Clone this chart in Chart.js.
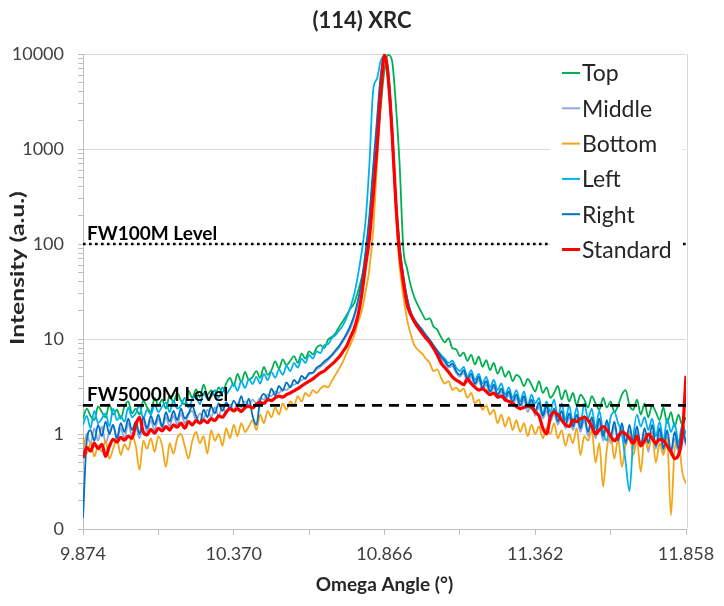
<!DOCTYPE html>
<html lang="en">
<head>
  <meta charset="utf-8">
  <title>(114) XRC</title>
  <script src="https://cdn.jsdelivr.net/npm/chart.js@4"></script>
  <style>
html, body {
  margin: 0;
  padding: 0;
  background: #fff;
}
#content {
  width: 724px;
  height: 606px;
}
  </style>
</head>
<body>
  <div id="content">
    <canvas id="xrc-chart" width="724" height="606"></canvas>
  </div>
  <script type="text/javascript">
// Omega grid: 161 samples, 0.0124 deg apart, 9.874 .. 11.858
const omegaStart = 9.874;
const omegaStep = 0.0124;
const omega = [];
for (let i = 0; i <= 160; i++) omega.push(+(omegaStart + i * omegaStep).toFixed(4));

const xTickValues = [9.874, 10.122, 10.370, 10.618, 10.866, 11.114, 11.362, 11.610, 11.858];
const yDecades = [0.1, 1, 10, 100, 1000, 10000];

const seriesNames = ['Top', 'Middle', 'Bottom', 'Left', 'Right', 'Standard'];
const levelNames = ['FW100M Level', 'FW5000M Level'];
const levelValues = [100, 2];

// intensities (a.u.), one per omega sample
const topSeries = [
  1.45, 1.85, 1.55, 1.40, 1.95, 1.70, 1.50, 2.05, 1.60, 1.80,
  1.45, 1.95, 2.20, 1.65, 1.85, 1.60, 2.25, 1.90, 1.70, 2.40,
  2.00, 2.30, 1.85, 2.55, 2.15, 2.70, 2.25, 2.05, 2.85, 2.40,
  2.95, 2.45, 3.30, 2.60, 2.90, 2.50, 3.10, 2.75, 3.40, 3.90,
  3.20, 4.30, 3.50, 4.50, 3.70, 4.00, 4.60, 3.90, 5.10, 4.20,
  4.70, 5.80, 4.90, 6.10, 5.30, 5.90, 6.60, 5.60, 7.00, 6.20,
  7.40, 6.90, 8.10, 8.60, 8.00, 9.80, 10.5, 11.5, 13.5, 15.5,
  18, 21, 24, 32, 45, 70, 130, 330, 900, 2800,
  6800, 9800, 8500, 3000, 700, 90, 55, 36, 27, 22,
  18.5, 16, 16.5, 13.5, 12.5, 10.5, 9.2, 10.2, 8.0, 7.8,
  6.6, 7.2, 5.9, 6.8, 5.4, 6.5, 5.1, 6.0, 4.7, 5.6,
  4.3, 5.1, 4.0, 4.6, 3.6, 4.2, 3.9, 3.2, 3.8, 3.3,
  2.8, 3.6, 2.7, 3.1, 2.4, 2.7, 3.2, 2.3, 2.9, 2.2,
  2.7, 2.0, 2.6, 2.3, 1.9, 2.5, 2.1, 1.8, 2.4, 1.9,
  2.2, 1.7, 2.0, 2.6, 2.9, 2.0, 1.8, 2.3, 1.6, 2.1,
  1.5, 2.0, 1.7, 1.4, 1.9, 1.3, 1.7, 1.2, 1.6, 1.25,
  1.5
];
const middleSeries = [
  0.65, 1.00, 0.78, 1.15, 0.85, 1.20, 0.80, 1.05, 1.25, 0.85,
  1.15, 0.90, 1.30, 0.95, 1.20, 0.90, 1.35, 1.05, 1.40, 1.10,
  1.45, 1.15, 1.50, 1.20, 1.55, 1.25, 1.65, 1.30, 1.60, 1.75,
  1.40, 1.65, 1.45, 1.80, 1.50, 1.90, 1.55, 1.95, 1.65, 2.05,
  1.80, 2.10, 1.90, 2.20, 2.00, 2.30, 2.10, 2.40, 2.30, 2.60,
  2.50, 2.80, 2.70, 3.00, 2.90, 3.20, 3.30, 3.50, 3.70, 3.90,
  4.20, 4.40, 4.80, 5.10, 5.50, 6.00, 6.60, 7.30, 8.20, 9.40,
  11, 13, 17, 24, 38, 75, 170, 560, 1800, 5500,
  9700, 6800, 1900, 320, 100, 47, 27, 19, 15.5, 13.5,
  12, 10.5, 9.3, 8.2, 7.1, 6.2, 5.6, 5.0, 5.2, 4.4,
  4.0, 4.4, 3.5, 4.0, 3.2, 3.7, 2.9, 3.3, 2.6, 3.1,
  2.4, 2.8, 2.2, 2.6, 2.0, 2.4, 1.8, 2.3, 1.7, 2.1,
  1.55, 1.95, 1.45, 1.75, 1.35, 1.65, 1.25, 1.55, 1.15, 1.5,
  1.1, 1.45, 1.05, 1.4, 0.95, 1.35, 0.9, 1.3, 0.85, 1.25,
  0.8, 1.2, 0.85, 1.15, 0.75, 1.1, 0.7, 1.05, 0.75, 1.0,
  0.65, 1.05, 0.7, 1.0, 0.65, 0.95, 0.6, 0.9, 0.65, 1.0,
  0.75
];
const bottomSeries = [
  0.95, 0.62, 0.80, 0.58, 0.75, 0.65, 0.85, 0.55, 0.70, 0.90,
  0.60, 0.78, 0.68, 0.95, 0.75, 0.42, 0.85, 0.70, 0.90, 0.65,
  0.95, 0.75, 0.45, 0.80, 0.62, 0.90, 1.00, 0.75, 0.55, 0.85,
  1.05, 0.80, 0.95, 0.62, 1.10, 0.85, 1.00, 0.75, 1.15, 0.90,
  1.25, 0.95, 1.30, 1.05, 1.20, 1.40, 1.10, 1.60, 1.30, 1.75,
  1.50, 1.90, 1.60, 2.10, 1.80, 2.20, 2.00, 2.50, 2.20, 2.70,
  2.50, 2.90, 2.70, 3.00, 3.20, 3.10, 3.60, 4.20, 4.90, 5.80,
  7.2, 8.8, 11, 15, 20, 32, 55, 140, 700, 3500,
  9600, 5500, 1300, 220, 60, 28, 16, 11, 8.5, 7.6,
  7.0, 6.2, 5.6, 4.6, 4.8, 3.9, 3.4, 3.6, 2.9, 3.1,
  2.8, 3.0, 2.4, 2.7, 2.1, 2.3, 1.8, 2.0, 1.6, 1.8,
  1.3, 1.6, 1.2, 1.5, 1.1, 1.4, 1.05, 1.3, 0.95, 1.25,
  1.0, 1.2, 0.9, 1.15, 1.0, 1.3, 0.9, 1.1, 0.75, 1.0,
  0.8, 1.15, 0.6, 0.95, 0.85, 1.1, 0.5, 0.8, 0.28, 0.7,
  1.0, 0.55, 0.9, 0.45, 0.8, 1.0, 0.6, 0.85, 0.4, 0.9,
  0.7, 1.0, 0.5, 0.8, 0.6, 0.9, 0.14, 0.7, 0.85, 0.4,
  0.3
];
const leftSeries = [
  1.25, 1.55, 1.15, 1.75, 1.30, 1.45, 1.65, 1.20, 1.85, 1.40,
  1.55, 1.35, 1.90, 1.50, 1.65, 2.00, 1.45, 1.80, 1.60, 2.05,
  1.70, 1.95, 2.15, 1.70, 2.25, 1.85, 2.00, 2.40, 1.90, 2.30,
  2.55, 2.05, 2.70, 2.35, 2.45, 2.90, 2.40, 3.10, 2.65, 3.00,
  3.40, 2.85, 3.60, 3.05, 3.80, 3.35, 4.00, 3.40, 4.30, 3.70,
  4.50, 3.90, 4.80, 4.20, 5.20, 4.60, 5.60, 5.00, 6.20, 5.60,
  6.80, 6.20, 7.40, 7.10, 8.60, 8.80, 10.2, 11.0, 12.4, 14,
  17, 22, 30, 48, 85, 180, 700, 4200, 5500, 8500,
  9500, 5000, 1300, 260, 85, 42, 25, 18, 15, 13.5,
  12, 10.5, 9.5, 8.5, 7.6, 6.8, 6.2, 5.6, 5.9, 5.0,
  4.6, 5.1, 4.0, 4.7, 3.7, 4.3, 3.4, 4.0, 3.1, 3.7,
  2.9, 3.4, 2.6, 3.1, 2.4, 2.9, 2.2, 2.8, 2.0, 2.6,
  2.1, 2.4, 1.6, 2.2, 1.7, 2.3, 1.5, 2.1, 1.4, 2.0,
  1.3, 1.9, 1.25, 2.1, 1.45, 1.85, 1.15, 1.75, 1.05, 0.85,
  1.5, 1.7, 1.3, 1.0, 0.5, 0.25, 0.9, 1.6, 1.2, 1.5,
  1.1, 1.45, 0.95, 1.35, 0.85, 1.45, 1.05, 1.3, 0.8, 1.25,
  1.0
];
const rightSeries = [
  0.13, 0.85, 1.10, 0.85, 1.25, 0.95, 1.35, 1.00, 1.25, 0.90,
  1.30, 1.05, 1.45, 1.10, 1.35, 1.00, 1.50, 1.15, 1.55, 1.25,
  1.60, 1.20, 1.70, 1.35, 1.75, 1.40, 1.85, 1.45, 1.65, 1.95,
  1.55, 1.30, 1.80, 1.50, 1.95, 1.65, 2.10, 1.75, 2.15, 1.85,
  2.25, 1.95, 2.50, 1.85, 2.35, 1.55, 1.25, 2.25, 2.65, 2.35,
  3.00, 2.55, 3.20, 2.85, 3.50, 3.10, 3.70, 3.40, 4.10, 3.80,
  4.40, 4.40, 5.00, 5.30, 5.80, 6.20, 6.80, 7.60, 8.50, 9.80,
  11.5, 14, 18, 26, 42, 85, 200, 650, 2000, 6000,
  9800, 6500, 1700, 300, 95, 46, 27, 19, 16, 14,
  12.5, 11, 9.8, 8.6, 7.5, 6.5, 5.9, 5.2, 5.5, 4.6,
  4.2, 4.7, 3.8, 4.3, 3.4, 4.0, 3.1, 3.6, 2.8, 3.3,
  2.6, 3.0, 2.4, 2.8, 2.2, 2.6, 2.0, 2.5, 1.9, 2.3,
  1.75, 2.15, 1.55, 1.95, 1.45, 1.85, 1.35, 1.75, 1.25, 1.65,
  1.2, 1.6, 1.15, 1.55, 1.05, 1.5, 1.0, 1.45, 0.95, 1.4,
  0.95, 1.35, 0.85, 1.3, 0.8, 1.25, 0.8, 1.2, 0.75, 1.15,
  0.8, 1.25, 0.75, 1.15, 0.7, 1.1, 0.65, 1.05, 0.7, 1.15,
  0.8
];
const standardSeries = [
  0.56, 0.72, 0.66, 0.80, 0.70, 0.78, 0.58, 0.74, 0.88, 0.82,
  0.92, 0.86, 0.95, 0.90, 1.25, 1.50, 1.05, 0.98, 1.12, 1.02,
  1.15, 1.08, 1.20, 1.10, 1.25, 1.18, 1.30, 1.15, 1.35, 1.25,
  1.38, 1.30, 1.40, 1.32, 1.45, 1.38, 1.55, 1.50, 1.70, 1.85,
  1.75, 1.85, 1.72, 1.90, 1.95, 1.88, 2.05, 2.15, 2.10, 2.30,
  2.25, 2.40, 2.50, 2.45, 2.60, 2.70, 2.85, 3.00, 3.20, 3.40,
  3.60, 3.80, 4.10, 4.40, 4.60, 5.00, 5.40, 5.90, 6.50, 7.40,
  8.5, 10.5, 13, 18, 30, 60, 115, 330, 1000, 3800,
  9800, 5500, 1500, 280, 80, 40, 23, 18, 15, 13,
  11.5, 10.2, 9.2, 8.0, 6.8, 5.6, 5.0, 4.5, 4.0, 3.7,
  3.5, 3.3, 3.8, 3.4, 3.1, 2.9, 3.0, 2.8, 2.6, 2.7,
  2.45, 2.5, 2.3, 2.2, 2.1, 1.95, 1.85, 1.9, 2.0, 1.9,
  1.7, 1.55, 1.15, 1.0, 1.5, 1.7, 1.6, 1.4, 1.25, 1.2,
  1.4, 1.35, 1.45, 1.5, 1.4, 1.2, 1.0, 1.1, 1.2, 1.1,
  0.95, 0.85, 0.95, 1.05, 1.0, 0.9, 0.8, 0.95, 0.75, 0.85,
  1.0, 0.9, 0.8, 0.88, 0.85, 0.75, 0.65, 0.55, 0.6, 0.95,
  4.1
];

const seriesValues = [topSeries, middleSeries, bottomSeries, leftSeries, rightSeries, standardSeries];
const seriesColors = ['#00B050', '#8EA9DB', '#F2A619', '#00B0F0', '#0070C0', '#FF0000'];
const seriesWidths = [1.8, 1.8, 1.8, 1.8, 1.8, 3.2];

// log-axis tick list: decades plus the 2..9 minor marks between them
const yTickValues = [];
yDecades.forEach((d, i) => {
  yTickValues.push(d);
  if (i < yDecades.length - 1) for (let k = 2; k <= 9; k++) yTickValues.push(+(d * k).toPrecision(3));
});
const isDecade = (v) => yDecades.some(d => Math.abs(d - v) < d * 1e-6);

const FONT = 'Lato, "Open Sans", sans-serif';
const GRID = '#d9d9d9';
const AXIS = '#bfbfbf';

const datasets = [];
// reference levels drawn above the curves
levelValues.forEach((v, i) => {
  datasets.push({
    label: levelNames[i],
    data: [{ x: omega[0], y: v }, { x: omega[omega.length - 1], y: v }],
    borderColor: '#000',
    borderWidth: 2.6,
    borderDash: i === 0 ? [2.6, 3.4] : [10, 7],
    pointRadius: 0,
    order: 0
  });
});
seriesNames.forEach((name, s) => {
  datasets.push({
    label: name,
    data: omega.map((x, i) => ({ x: x, y: seriesValues[s][i] })),
    borderColor: seriesColors[s],
    borderWidth: seriesWidths[s],
    pointRadius: 0,
    cubicInterpolationMode: 'monotone',
    order: seriesNames.length - s
  });
});

// title, axis titles, level captions and the legend box
const overlay = {
  id: 'overlay',
  afterDatasetsDraw(chart) {
    const { ctx, chartArea: a, scales: { x, y } } = chart;
    ctx.save();

    ctx.strokeStyle = GRID;
    ctx.lineWidth = 1;
    ctx.beginPath();
    ctx.moveTo(a.right + 1.5, a.top);
    ctx.lineTo(a.right + 1.5, a.bottom);
    ctx.stroke();

    ctx.fillStyle = '#000';
    ctx.font = 'bold 19px ' + FONT;
    ctx.textAlign = 'left';
    ctx.textBaseline = 'alphabetic';
    levelNames.forEach((t, i) => {
      ctx.fillText(t, x.getPixelForValue(omega[0]) + 4, y.getPixelForValue(levelValues[i]) - 4);
    });

    // legend
    const lx = a.right - 136;
    ctx.fillStyle = '#fff';
    ctx.fillRect(lx, a.top + 1, 133, 220);
    ctx.font = '23px ' + FONT;
    ctx.textBaseline = 'middle';
    seriesNames.forEach((name, s) => {
      const ly = a.top + 19 + s * 35.3;
      ctx.strokeStyle = seriesColors[s];
      ctx.lineWidth = s === 5 ? 3 : 2;
      ctx.beginPath();
      ctx.moveTo(lx + 12, ly);
      ctx.lineTo(lx + 30, ly);
      ctx.stroke();
      ctx.fillStyle = '#262626';
      ctx.fillText(name, lx + 32, ly + 1);
    });

    // chart title
    ctx.fillStyle = '#262626';
    ctx.textAlign = 'center';
    ctx.font = 'bold 22px ' + FONT;
    ctx.fillText('(114) XRC', 362, 21);

    // axis titles
    ctx.font = 'bold 19px ' + FONT;
    ctx.fillText('Omega Angle (\u00B0)', (a.left + a.right) / 2, 585);
    ctx.translate(18, 268);
    ctx.rotate(-Math.PI / 2);
    ctx.scale(1.3, 1);
    ctx.fillText('Intensity (a.u.)', 0, 0);

    ctx.restore();
  }
};

const config = {
  type: 'line',
  data: { datasets: datasets },
  options: {
    responsive: false,
    animation: false,
    devicePixelRatio: 1,
    layout: {
      padding: { top: 54, right: 38, bottom: 0, left: 0 }
    },
    plugins: {
      legend: { display: false },
      title: { display: false },
      tooltip: { enabled: false }
    },
    scales: {
      x: {
        type: 'linear',
        min: omegaStart,
        max: 11.858,
        afterBuildTicks: (axis) => {
          axis.ticks = xTickValues.map(v => ({ value: v }));
        },
        afterFit: (axis) => {
          axis.height = 77;
          axis.paddingLeft = 0;
          axis.paddingRight = 0;
        },
        ticks: {
          autoSkip: false,
          maxRotation: 0,
          padding: 8,
          color: '#404040',
          font: { family: FONT, size: 18 },
          callback: (v, i) => (i % 2 === 0 ? xTickValues[i].toFixed(3) : '')
        },
        grid: {
          drawOnChartArea: false,
          tickLength: 6,
          tickColor: AXIS
        },
        border: { color: AXIS }
      },
      y: {
        type: 'logarithmic',
        min: 0.1,
        max: 10000,
        afterBuildTicks: (axis) => {
          axis.ticks = yTickValues.map(v => ({ value: v }));
        },
        afterFit: (axis) => {
          axis.width = 83;
          axis.paddingTop = 0;
          axis.paddingBottom = 0;
        },
        ticks: {
          autoSkip: false,
          padding: 14,
          color: '#404040',
          font: { family: FONT, size: 18 },
          callback: (v) => (isDecade(v) ? (v < 1 ? '0' : String(v)) : '')
        },
        grid: {
          color: (c) => (c.tick && isDecade(c.tick.value) ? GRID : 'rgba(0,0,0,0)'),
          tickColor: AXIS,
          tickLength: 5
        },
        border: { color: AXIS }
      }
    }
  },
  plugins: [overlay]
};

const xrcChart = new Chart(document.getElementById('xrc-chart'), config);
</script>
</body>
</html>
